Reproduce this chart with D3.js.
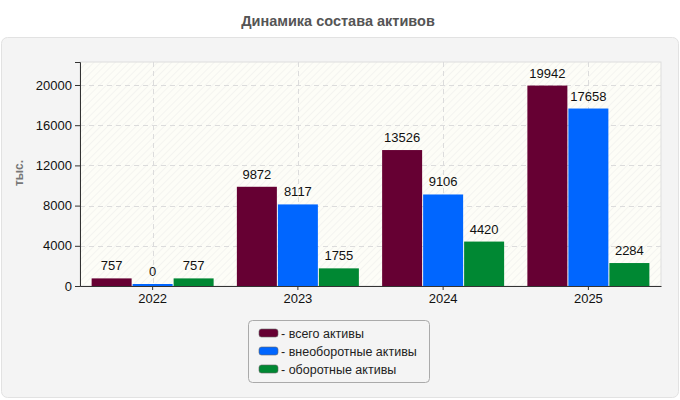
<!DOCTYPE html>
<html><head><meta charset="utf-8">
<script src="https://cdn.jsdelivr.net/npm/d3@7"></script>
<style>body{margin:0;background:#fff;}svg{display:block;font-family:"Liberation Sans",Arial,sans-serif;}</style>
</head><body><div id="chart"></div>
<script>
const categories = ["2022", "2023", "2024", "2025"];
const seriesNames = ["всего активы", "внеоборотные активы", "оборотные активы"];
const seriesColors = ["#660033", "#0066ff", "#008833"];
const totalAssets = [757, 9872, 13526, 19942];
const nonCurrentAssets = [0, 8117, 9106, 17658];
const currentAssets = [757, 1755, 4420, 2284];
const yTicks = [0, 4000, 8000, 12000, 16000, 20000];
const seriesValues = [totalAssets, nonCurrentAssets, currentAssets];

(function () {
const W = 680, H = 400;
const svg = d3.select("#chart").append("svg").attr("width", W).attr("height", H);
const defs = svg.append("defs");
const pat = defs.append("pattern").attr("id", "hatch").attr("patternUnits", "userSpaceOnUse")
  .attr("width", 5).attr("height", 5).attr("patternTransform", "rotate(45)");
pat.append("rect").attr("width", 5).attr("height", 5).attr("fill", "#fdfdf7");
pat.append("line").attr("x1", 0).attr("y1", 0).attr("x2", 0).attr("y2", 5).attr("stroke", "#efefec").attr("stroke-width", 1.2);

svg.append("text").attr("x", 338).attr("y", 26).attr("text-anchor", "middle")
  .attr("font-size", 14.5).attr("font-weight", "bold").attr("fill", "#555").text("Динамика состава активов");

svg.append("rect").attr("x", 1.5).attr("y", 37.5).attr("width", 677).attr("height", 360).attr("rx", 6)
  .attr("fill", "#f4f4f4").attr("stroke", "#e2e2e2");

const pl = 80, pr = 661, pt = 62, pb = 286;
const x = d3.scaleBand().domain(categories).range([pl, pr]).padding(0);
const y = d3.scaleLinear().domain([0, 22287]).range([pb, pt]);

svg.append("rect").attr("x", pl).attr("y", pt).attr("width", pr - pl).attr("height", pb - pt)
  .attr("fill", "url(#hatch)").attr("stroke", "#dddddd");

const grid = svg.append("g");
yTicks.filter(t => t > 0).forEach(t => {
  grid.append("line").attr("x1", pl).attr("x2", pr).attr("y1", Math.round(y(t)) + 0.5).attr("y2", Math.round(y(t)) + 0.5)
    .attr("stroke", "#dcdcdc").attr("stroke-dasharray", "5,4");
});
categories.forEach(c => {
  const cx = Math.round(x(c) + x.bandwidth() / 2) + 0.5;
  grid.append("line").attr("x1", cx).attr("x2", cx).attr("y1", pt).attr("y2", pb)
    .attr("stroke", "#dcdcdc").attr("stroke-dasharray", "5,4");
});

const barW = 40, gap = 1;
const groupW = seriesValues.length * barW + (seriesValues.length - 1) * gap;
const xs = d3.scaleBand().domain(d3.range(seriesValues.length)).range([0, groupW]).paddingInner(gap / (barW + gap)).paddingOuter(0);
seriesValues.forEach((vals, si) => {
  categories.forEach((c, ci) => {
    const bx = x(c) + (x.bandwidth() - groupW) / 2 + xs(si);
    const v = vals[ci];
    const yt = Math.min(y(v), pb - 2);
    svg.append("rect").attr("x", bx).attr("y", yt).attr("width", xs.bandwidth()).attr("height", pb - yt)
      .attr("fill", seriesColors[si]);
    svg.append("text").attr("x", bx + xs.bandwidth() / 2).attr("y", yt - 8).attr("text-anchor", "middle")
      .attr("font-size", 13).attr("fill", "#111").text(v);
  });
});

const yAxis = svg.append("g").attr("transform", `translate(${pl},0)`)
  .call(d3.axisLeft(y).tickValues(yTicks).tickFormat(d3.format("d")).tickSize(5).tickPadding(3));
yAxis.select(".domain").attr("stroke", "#333");
yAxis.selectAll(".tick line").attr("stroke", "#333");
yAxis.selectAll("text").attr("font-size", 13).attr("fill", "#111").attr("font-family", "Liberation Sans, Arial, sans-serif");

const xAxis = svg.append("g").attr("transform", `translate(0,${pb})`)
  .call(d3.axisBottom(x).tickSize(4).tickPadding(4).tickSizeOuter(0));
xAxis.select(".domain").attr("stroke", "#333");
xAxis.selectAll(".tick line").attr("stroke", "#333");
xAxis.selectAll("text").attr("font-size", 13).attr("fill", "#111").attr("font-family", "Liberation Sans, Arial, sans-serif");

svg.append("text").attr("transform", "translate(23,173) rotate(-90)").attr("text-anchor", "middle")
  .attr("font-size", 12).attr("font-weight", "bold").attr("fill", "#777").text("тыс.");

const lg = svg.append("g");
lg.append("rect").attr("x", 248.5).attr("y", 320.5).attr("width", 181).attr("height", 62).attr("rx", 4)
  .attr("fill", "#f4f4f4").attr("stroke", "#aaa");
seriesNames.forEach((n, i) => {
  const cy = 333 + i * 18;
  lg.append("rect").attr("x", 259).attr("y", cy - 4).attr("width", 19).attr("height", 8).attr("rx", 2.5)
    .attr("fill", seriesColors[i]).attr("stroke", "#666").attr("stroke-width", 0.6);
  lg.append("text").attr("x", 281).attr("y", cy + 4.5).attr("font-size", 12.5).attr("fill", "#222").text("- " + n);
});
})();
</script></body></html>
